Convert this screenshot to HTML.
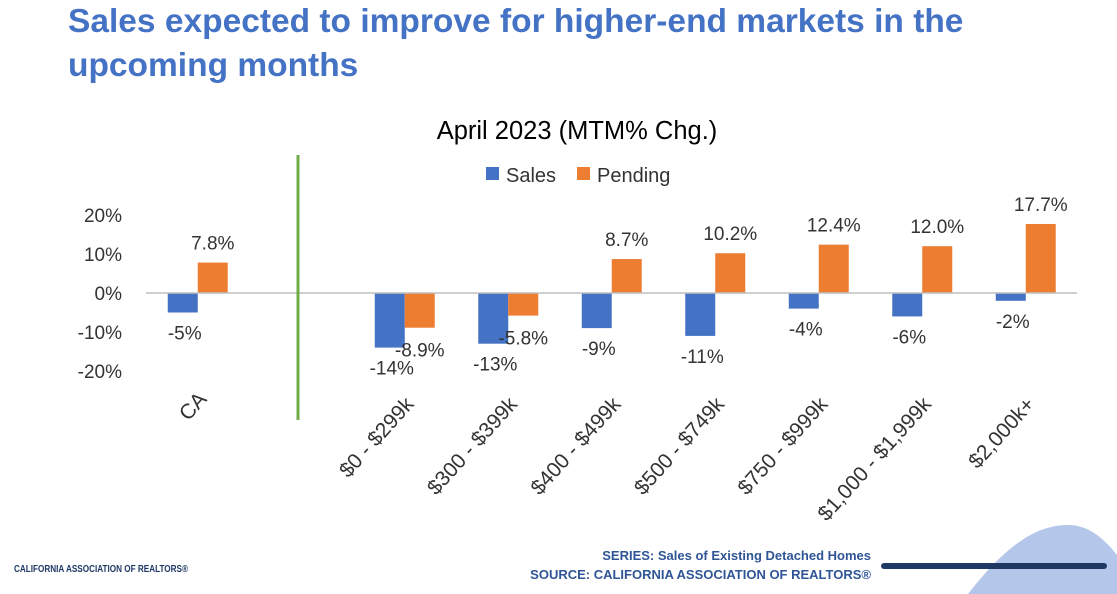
<!DOCTYPE html>
<html><head><meta charset="utf-8"><style>
body{margin:0;width:1117px;height:594px;background:#fff;overflow:hidden;font-family:"Liberation Sans",sans-serif;position:relative}
#title{position:absolute;left:68px;top:0px;color:#4472C4;font-weight:bold;font-size:33.5px;line-height:44px;margin:0;white-space:nowrap}
svg{position:absolute;left:0;top:0}
</style></head><body>
<h1 id="title">Sales expected to improve for higher-end markets in the<br>upcoming months</h1>
<svg id="c" width="1117" height="594"></svg>
<script>
const categories=["CA","","$0 - $299k","$300 - $399k","$400 - $499k","$500 - $749k","$750 - $999k","$1,000 - $1,999k","$2,000k+"];
const sales=[-5,null,-14,-13,-9,-11,-4,-6,-2];
const pending=[7.8,null,-8.9,-5.8,8.7,10.2,12.4,12.0,17.7];
const salesLabels=["-5%","","-14%","-13%","-9%","-11%","-4%","-6%","-2%"];
const pendingLabels=["7.8%","","-8.9%","-5.8%","8.7%","10.2%","12.4%","12.0%","17.7%"];
const yTicks=[20,10,0,-10,-20];
const NS="http://www.w3.org/2000/svg";
const svg=document.getElementById('c');
const x0=146,slot=103.5,bw=30;
const y=v=>293-v*3.9;
const cx=i=>x0+slot*(i+0.5);
function mk(t,a,p){const e=document.createElementNS(NS,t);for(const k in a)e.setAttribute(k,a[k]);(p||svg).appendChild(e);return e;}
function tx(s,a){const e=mk('text',a);e.textContent=s;return e;}
const deco=mk('path',{d:"M968 594 C1010 540 1040 525 1068 525 C1090 525 1105 540 1117 555 L1117 594 Z",fill:"#b4c7ea"});

const ln=mk('line',{x1:884,y1:566,x2:1104,y2:566,stroke:"#1f3864","stroke-width":6,"stroke-linecap":"round"});

let t=tx("April 2023 (MTM% Chg.)",{x:577,y:139,"text-anchor":"middle","font-size":25.5,fill:"#000"});

let g=mk('g',{});
mk('rect',{x:486,y:167,width:13,height:13,fill:"#4472C4"},g);
let e=tx("Sales",{x:506,y:182,"font-size":20,fill:"#333"});g.appendChild(e);
g=mk('g',{});
mk('rect',{x:577,y:167,width:13,height:13,fill:"#ED7D31"},g);
e=tx("Pending",{x:597,y:182,"font-size":20,fill:"#333"});g.appendChild(e);
yTicks.forEach(v=>{const l=tx(v+"%",{x:122,y:y(v)+7,"text-anchor":"end","font-size":19,fill:"#333"});
});
categories.forEach((c,i)=>{
 if(sales[i]!==null){
  const v=sales[i];const r=mk('rect',{x:cx(i)-bw,y:Math.min(y(v),293),width:bw,height:Math.abs(y(v)-293),fill:"#4472C4"});
  
  const l=tx(salesLabels[i],{x:cx(i)-bw/2+2,y:v<0?y(v)+27:y(v)-8,"text-anchor":"middle","font-size":19,fill:"#333"});
  
 }
 if(pending[i]!==null){
  const v=pending[i];const r=mk('rect',{x:cx(i),y:Math.min(y(v),293),width:bw,height:Math.abs(y(v)-293),fill:"#ED7D31"});
  
  const l=tx(pendingLabels[i],{x:cx(i)+bw/2,y:v<0?y(v)+29:y(v)-13,"text-anchor":"middle","font-size":19,fill:"#333"});
  
 }
 if(c){const l=tx(c,{x:0,y:0,"text-anchor":"end","font-size":21,fill:"#333",transform:`translate(${cx(i)+10},${i==0?400:405}) rotate(-48)`});
 }
});
let ax=mk('line',{x1:146,y1:293,x2:1077,y2:293,stroke:"#bfbfbf","stroke-width":1.5});

let gl=mk('line',{x1:298,y1:155,x2:298,y2:420,stroke:"#70AD47","stroke-width":3});

t=tx("CALIFORNIA ASSOCIATION OF REALTORS®",{x:14,y:572,"font-size":10,"font-weight":"bold",fill:"#1f3864",textLength:174,lengthAdjust:"spacingAndGlyphs"});

t=tx("SERIES: Sales of Existing Detached Homes",{x:871,y:560,"text-anchor":"end","font-size":13,"font-weight":"bold",fill:"#2F5597"});

t=tx("SOURCE: CALIFORNIA ASSOCIATION OF REALTORS®",{x:871,y:579,"text-anchor":"end","font-size":13,"font-weight":"bold",fill:"#2F5597"});

</script>
</body></html>
